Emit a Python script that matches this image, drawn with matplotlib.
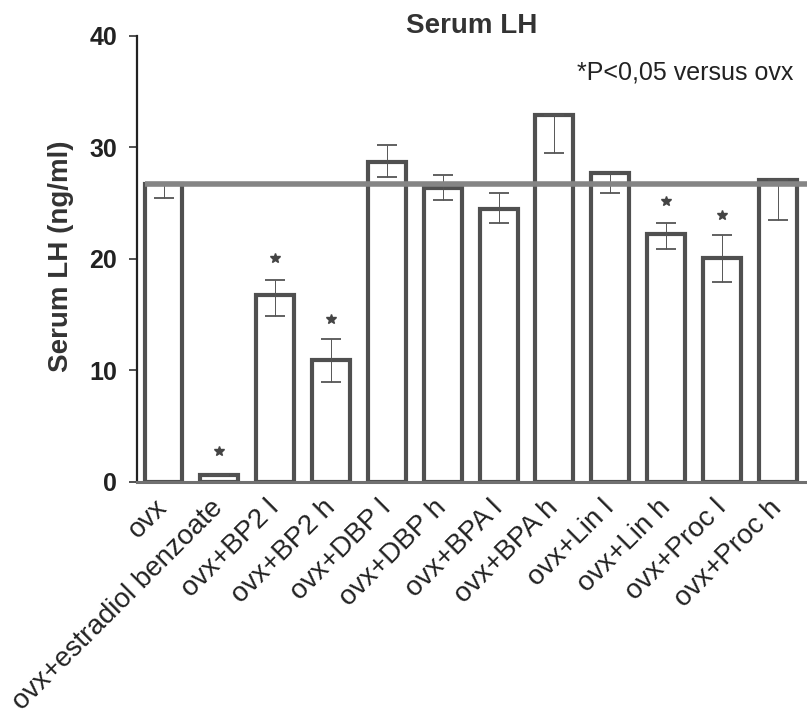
#!/usr/bin/env python3
import numpy as np
import matplotlib
matplotlib.use('Agg')
import matplotlib.pyplot as plt

GROUPS = ['ovx', 'ovx+estradiol benzoate', 'ovx+BP2 l', 'ovx+BP2 h',
          'ovx+DBP l', 'ovx+DBP h', 'ovx+BPA l', 'ovx+BPA h',
          'ovx+Lin l', 'ovx+Lin h', 'ovx+Proc l', 'ovx+Proc h']
MEANS = [26.7, 0.6, 16.7, 10.9, 28.7, 26.3, 24.5, 32.9, 27.7, 22.2, 20.1, 27.1]
ERR_LOW = [1.3, 0, 1.8, 2.0, 1.4, 1.0, 1.3, 3.4, 1.8, 1.3, 2.2, 3.6]
ERR_HIGH = [0, 0, 1.4, 1.9, 1.5, 1.2, 1.4, 0, 0, 1.0, 2.0, 0]
# groups marked with a star, and where the star sits
STARRED = [1, 2, 3, 9, 10]
STAR_Y = [2.8, 20.1, 14.6, 25.2, 23.9]
YTICKS = [0, 10, 20, 30, 40]

plt.rcParams['font.family'] = ['Liberation Sans', 'DejaVu Sans']


def main():
    fig = plt.figure(figsize=(8.07, 7.16), dpi=100)
    ax = fig.add_axes([0.1694, 0.3272, 0.831, 0.623])
    x = np.arange(len(GROUPS))
    width = 0.68

    ax.bar(x, MEANS, width, color='white', edgecolor='#505050', linewidth=3, zorder=2)
    ax.errorbar(x, MEANS, yerr=[ERR_LOW, ERR_HIGH], fmt='none', ecolor='#555555',
                elinewidth=0.7, capsize=7, capthick=1.3, zorder=3)
    ax.plot(x[STARRED], STAR_Y, ls='none', marker='*', ms=7, color='#444444', zorder=4)

    # reference line at the ovx level
    ax.hlines(MEANS[0], x[0] - width / 2, 11.6, color='#858585', linewidth=4, zorder=3)

    ax.set_xlim(-0.48, 11.53)
    ax.set_ylim(0, 40)
    ax.set_yticks(YTICKS)
    ax.set_yticklabels([str(t) for t in YTICKS], fontsize=18, fontweight='bold', color='#222222')
    ax.set_xticks(x)
    ax.set_xticklabels(GROUPS, rotation=45, ha='right', va='center', rotation_mode='anchor',
                       fontsize=20, color='#222222')
    ax.tick_params(axis='x', length=0, pad=16)
    ax.tick_params(axis='y', length=6, width=1.2, pad=8, color='#333333')

    for side in ('top', 'right'):
        ax.spines[side].set_visible(False)
    ax.spines['left'].set_linewidth(1.6)
    ax.spines['left'].set_color('#222222')
    ax.spines['bottom'].set_linewidth(2.2)
    ax.spines['bottom'].set_color('#707070')

    fig.text(0.584, 0.964, 'Serum LH', ha='center', va='center', fontsize=20,
             fontweight='bold', color='#333333')
    fig.text(0.715, 0.899, '*P<0,05 versus ovx', ha='left', va='center', fontsize=18,
             color='#222222')
    fig.text(0.0756, 0.642, 'Serum LH (ng/ml)', ha='center', va='center', rotation=90,
             fontsize=20, fontweight='bold', color='#333333')

    fig.savefig('out.png', dpi=100)


if __name__ == '__main__':
    main()
